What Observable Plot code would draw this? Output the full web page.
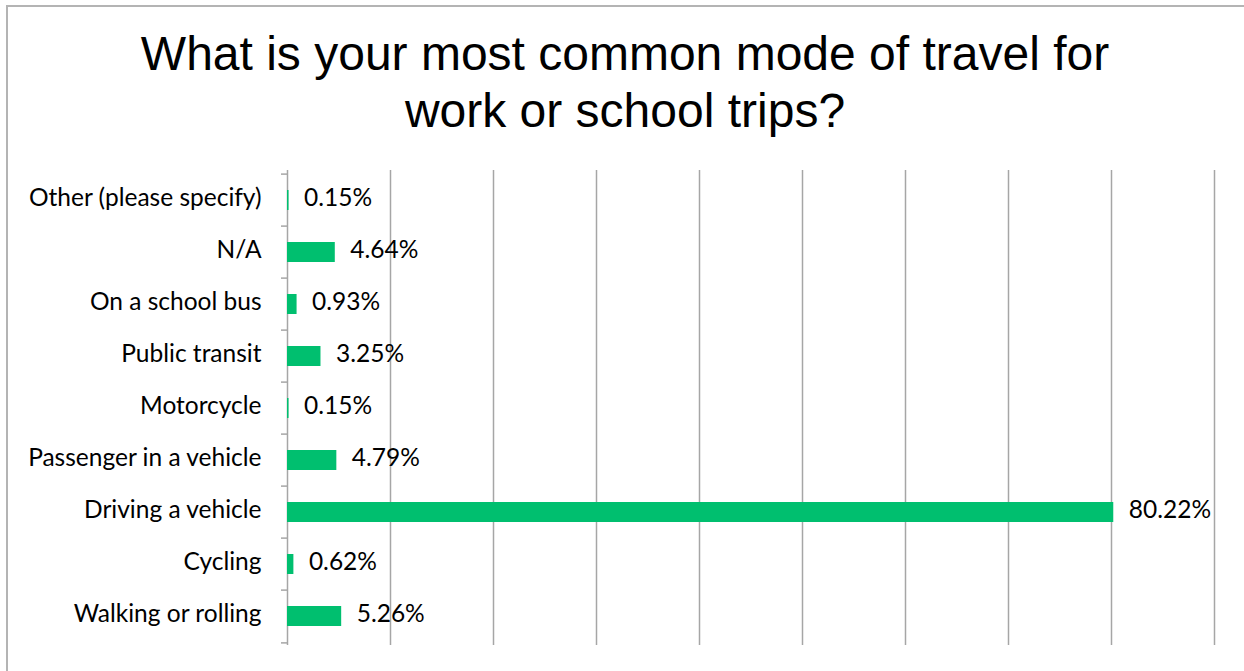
<!DOCTYPE html>
<html>
<head>
<meta charset="utf-8">
<script src="https://cdn.jsdelivr.net/npm/d3@7"></script>
<script src="https://cdn.jsdelivr.net/npm/@observablehq/plot@0.6"></script>
<style>
  html, body { margin: 0; padding: 0; background: #fff; overflow: hidden; }
  #page { position: relative; width: 1244px; height: 671px; overflow: hidden; }
  #border { position: absolute; left: 6px; top: 5px; width: 1300px; height: 800px;
            border-top: 2px solid #b4b4b4; border-left: 2px solid #b4b4b4; }
  #title { position: absolute; left: 0; top: 25px; width: 1250px; text-align: center;
           font-family: "Liberation Sans", Arial, sans-serif; font-size: 48px; line-height: 57px; color: #000; }
  #chart { position: absolute; left: 0; top: 160px; }
</style>
</head>
<body>
<div id="page">
  <div id="border"></div>
  <div id="title">What is your most common mode of travel for<br>work or school trips?</div>
  <div id="chart"></div>
</div>
<script>
const categories = [
  "Other (please specify)",
  "N/A",
  "On a school bus",
  "Public transit",
  "Motorcycle",
  "Passenger in a vehicle",
  "Driving a vehicle",
  "Cycling",
  "Walking or rolling"
];
const percents = [0.15, 4.64, 0.93, 3.25, 0.15, 4.79, 80.22, 0.62, 5.26];
const gridTicks = [0, 10, 20, 30, 40, 50, 60, 70, 80, 90];

const data = categories.map((c, i) => ({mode: c, pct: percents[i]}));
const lastCat = [categories[categories.length - 1]];

const W = 1244, H = 500;
const mT = 10, mB = 15;
const step = (H - mT - mB) / categories.length;
const labelFont = "Lato, 'Open Sans', sans-serif";
const fs = 24.5;

const chart = Plot.plot({
  width: W,
  height: H,
  marginLeft: 287,
  marginRight: 30,
  marginTop: mT,
  marginBottom: mB,
  style: {fontFamily: labelFont, fontSize: fs + "px", color: "#000", background: "transparent"},
  x: {domain: [0, 90], axis: null},
  y: {domain: categories, padding: 0, axis: null},
  marks: [
    Plot.ruleX(gridTicks, {x: d => d, stroke: "#a6a6a6", strokeWidth: 1.5}),
    Plot.ruleY(categories, {y: d => d, x1: 0, x2: 0, insetLeft: -6, dy: -step / 2, stroke: "#a6a6a6", strokeWidth: 1.5}),
    Plot.ruleY(lastCat, {y: d => d, x1: 0, x2: 0, insetLeft: -6, dy: step / 2, stroke: "#a6a6a6", strokeWidth: 1.5}),
    Plot.barX(data, {x: "pct", y: "mode", fill: "#00bf6f", insetTop: 16, insetBottom: 16}),
    Plot.text(data, {x: "pct", y: "mode", text: d => d.pct.toFixed(2) + "%", textAnchor: "start", dx: 15, dy: -2, fill: "#000", fontSize: fs}),
    Plot.axisY({tickSize: 0, tickPadding: 26, fontSize: fs, dy: -2, label: null})
  ]
});
document.getElementById("chart").appendChild(chart);
</script>
</body>
</html>
